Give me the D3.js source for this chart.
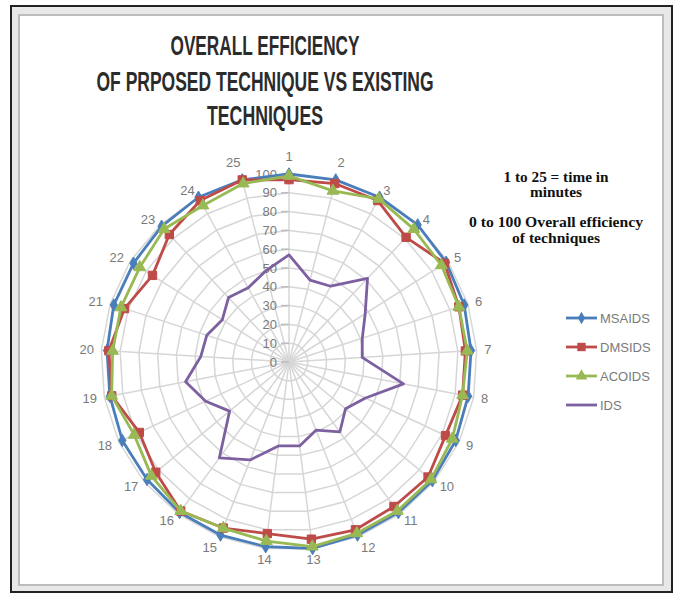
<!DOCTYPE html>
<html lang="en">
<head>
<meta charset="UTF-8">
<title>Overall Efficiency Radar</title>
<script src="https://d3js.org/d3.v7.min.js"></script>
<style>
    body { margin: 0; background: #fff; }
    svg { display: block; }
    .title { font-family: "Liberation Sans Narrow", "Liberation Sans", Arial, sans-serif; font-weight: bold; fill: #2b2b2b; }
    .note { font-family: "Liberation Serif", "Times New Roman", serif; font-weight: bold; fill: #111; }
    .cat, .tick-label, .legend text { font-family: "Liberation Sans Narrow", "Liberation Sans", Arial, sans-serif; fill: #7a7a7a; }
</style>
</head>
<body>
<svg width="678" height="595"></svg>
<script>
// time in minutes (radar categories)
const categories = d3.range(1, 26).map(String);
const radialTicks = [0, 10, 20, 30, 40, 50, 60, 70, 80, 90, 100];
const seriesNames = ["MSAIDS", "DMSIDS", "ACOIDS", "IDS"];

// values
const msaids = [100, 100, 100, 100, 99, 98, 97, 97, 98, 99, 99, 99, 100, 99, 99, 99, 98, 98, 97, 97, 98, 98, 99, 100, 100];
const dmsids = [97, 98, 98, 91, 98, 95, 94, 94, 92, 96, 95, 96, 95, 92, 95, 98, 92, 88, 96, 96, 92, 86, 93, 98, 100];
const acoids = [99, 94, 99, 97, 96, 95, 95, 94, 96, 98, 98, 98, 99, 96, 95, 98, 95, 91, 96, 94, 94, 94, 97, 95, 98];
const ids    = [57, 45, 46, 61, 48, 41, 39, 62, 45, 39, 46, 39, 45, 45, 56, 63, 41, 49, 56, 47, 46, 42, 47, 45, 50];

const colors = ["#4a7ebb", "#be4b48", "#98b954", "#7d60a0"];

const svg = d3.select("svg");

// frame like the pasted screenshot
svg.append("rect").attr("x", 11).attr("y", 6).attr("width", 661).attr("height", 586)
    .attr("fill", "#e8e8e8").attr("stroke", "#222").attr("stroke-width", 2);
svg.append("rect").attr("x", 19).attr("y", 15).attr("width", 644).attr("height", 570)
    .attr("fill", "#fff").attr("stroke", "#bdbdbd").attr("stroke-width", 2);

// title
const titleLines = [
    { t: "OVERALL EFFICIENCY", y: 55, w: 189 },
    { t: "OF PRPOSED TECHNIQUE VS EXISTING", y: 91, w: 337 },
    { t: "TECHNIQUES", y: 125, w: 116 }
];
svg.selectAll(".title").data(titleLines).enter().append("text")
    .attr("class", "title")
    .attr("x", 265).attr("y", d => d.y)
    .attr("text-anchor", "middle")
    .attr("font-size", 27)
    .attr("textLength", d => d.w)
    .attr("lengthAdjust", "spacingAndGlyphs")
    .text(d => d.t);

// notes
const notes = [
    { t: "1 to 25 = time in", y: 182, w: 105 },
    { t: "minutes", y: 197, w: 52 },
    { t: "0 to 100  Overall efficiency", y: 227, w: 174 },
    { t: "of techniques", y: 243, w: 88 }
];
svg.selectAll(".note").data(notes).enter().append("text")
    .attr("class", "note")
    .attr("x", 556).attr("y", d => d.y)
    .attr("text-anchor", "middle")
    .attr("font-size", 14)
    .attr("textLength", d => d.w)
    .attr("lengthAdjust", "spacingAndGlyphs")
    .text(d => d.t);

// radar
const cx = 289, cy = 362, R = 188;
const r = d3.scaleLinear().domain([0, 100]).range([0, R]);
const angle = d3.scaleLinear().domain([0, categories.length]).range([0, 2 * Math.PI]);

const g = svg.append("g").attr("transform", `translate(${cx},${cy})`);
const pt = (i, v) => [r(v) * Math.sin(angle(i)), -r(v) * Math.cos(angle(i))];

// rings
const ring = d3.lineRadial().angle((d, i) => angle(i)).radius(d => r(d)).curve(d3.curveLinearClosed);
g.selectAll(".ring").data(radialTicks.slice(1)).enter().append("path")
    .attr("d", t => ring(categories.map(() => t)))
    .attr("fill", "none").attr("stroke", "#d6d6d6").attr("stroke-width", 1.5);

// spokes
g.selectAll(".spoke").data(categories).enter().append("line")
    .attr("x1", 0).attr("y1", 0)
    .attr("x2", (d, i) => pt(i, 100)[0]).attr("y2", (d, i) => pt(i, 100)[1])
    .attr("stroke", "#d6d6d6").attr("stroke-width", 1.5);

// value axis labels
g.selectAll(".tick-label").data(radialTicks).enter().append("text")
    .attr("class", "tick-label")
    .attr("x", -12).attr("y", d => -r(d))
    .attr("dy", "0.35em")
    .attr("text-anchor", "end")
    .attr("font-size", 13)
    .text(d => d);
g.selectAll(".tick-mark").data(radialTicks).enter().append("line")
    .attr("x1", -8).attr("x2", 0)
    .attr("y1", d => -r(d)).attr("y2", d => -r(d))
    .attr("stroke", "#bdbdbd").attr("stroke-width", 1.5);

// category labels
g.selectAll(".cat").data(categories).enter().append("text")
    .attr("class", "cat")
    .attr("font-size", 13)
    .attr("x", (d, i) => pt(i, 104)[0])
    .attr("y", (d, i) => pt(i, 104)[1])
    .attr("dy", (d, i) => {
        const c = Math.cos(angle(i));
        return c > 0.9 ? "-0.4em" : (c < -0.9 ? "0.65em" : "0.35em");
    })
    .attr("text-anchor", (d, i) => {
        const s = Math.sin(angle(i));
        return s > 0.15 ? "start" : (s < -0.15 ? "end" : "middle");
    })
    .text(d => d);

// series
const seriesData = [msaids, dmsids, acoids, ids];
const line = d3.lineRadial().angle((d, i) => angle(i)).radius(d => r(d)).curve(d3.curveLinearClosed);

const markers = {
    MSAIDS: d3.symbol().type(d3.symbolDiamond).size(45),
    DMSIDS: d3.symbol().type(d3.symbolSquare).size(70),
    ACOIDS: d3.symbol().type(d3.symbolTriangle).size(60)
};

seriesNames.forEach((name, k) => {
    const vals = seriesData[k];
    g.append("path")
        .attr("d", line(vals))
        .attr("fill", "none")
        .attr("stroke", colors[k])
        .attr("stroke-width", 2.8)
        .attr("stroke-linejoin", "round");
    if (markers[name]) {
        g.selectAll(".m" + k).data(vals).enter().append("path")
            .attr("transform", (d, i) => `translate(${pt(i, d)[0]},${pt(i, d)[1]})`)
            .attr("d", markers[name]())
            .attr("fill", colors[k])
            .attr("stroke", colors[k])
            .attr("stroke-width", 1);
    }
});

// legend
const legend = svg.append("g").attr("class", "legend");
const ly = d3.scalePoint().domain(seriesNames).range([318, 405]);
seriesNames.forEach((name, k) => {
    const y = ly(name);
    legend.append("line").attr("x1", 566).attr("x2", 597).attr("y1", y).attr("y2", y)
        .attr("stroke", colors[k]).attr("stroke-width", 2.8);
    if (markers[name]) {
        legend.append("path").attr("transform", `translate(581.5,${y})`)
            .attr("d", markers[name]()).attr("fill", colors[k]);
    }
    legend.append("text").attr("x", 600).attr("y", y).attr("dy", "0.35em")
        .attr("font-size", 13).text(name);
});
</script>
</body>
</html>
